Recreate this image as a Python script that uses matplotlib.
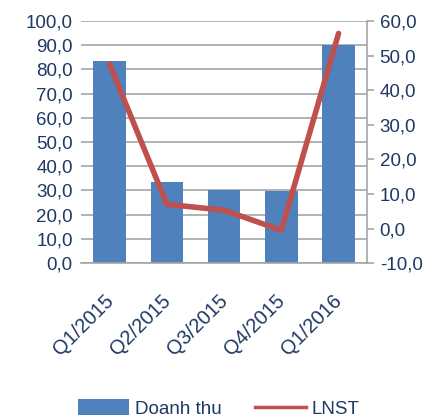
import matplotlib.pyplot as plt
from matplotlib.lines import Line2D
from matplotlib.transforms import ScaledTranslation
import numpy as np

quarters = ["Q1/2015", "Q2/2015", "Q3/2015", "Q4/2015", "Q1/2016"]
doanh_thu = [83.3, 33.3, 30.2, 29.8, 90.2]
lnst = [47.5, 7.0, 5.3, -0.5, 56.4]

navy = "#1F3864"
plt.rcParams['font.family'] = ['Liberation Sans', 'DejaVu Sans']

fig = plt.figure(figsize=(4.33, 4.19), dpi=100)
ax = fig.add_axes([0.187, 0.372, 0.661, 0.578])
x = np.arange(len(quarters))

bars = ax.bar(x, doanh_thu, width=0.57, color="#4F81BD", zorder=2, label="Doanh thu")
ax.set_ylim(0, 100)
ax.set_yticks(np.arange(0, 101, 10))
ax.set_yticklabels([f"{v:.1f}".replace(".", ",") for v in np.arange(0, 101, 10)])
ax.yaxis.grid(True, color="#A6A6A6", linewidth=1.2, zorder=0)
ax.set_axisbelow(True)
ax.set_xlim(-0.5, len(quarters) - 0.5)
ax.set_xticks(x)
ax.set_xticklabels(quarters, rotation=45, ha="right", rotation_mode="anchor")
for s in ["top", "left", "right"]:
    ax.spines[s].set_visible(False)
ax.spines["bottom"].set_color("#A6A6A6")
ax.spines["bottom"].set_linewidth(1.2)
ax.tick_params(axis="both", length=0, labelsize=13.5, colors=navy, pad=6)
ax.tick_params(axis="x", pad=20, labelsize=14.5)
# nudge the slanted labels a little to the left
shift = ScaledTranslation(-6 / 100, 0, fig.dpi_scale_trans)
for lab in ax.get_xticklabels():
    lab.set_transform(lab.get_transform() + shift)

ax2 = ax.twinx()
ax2.plot(x, lnst, color="#C0504D", linewidth=4, solid_capstyle="round", zorder=3)
ax2.set_ylim(-10, 60)
ax2.set_yticks(np.arange(-10, 61, 10))
ax2.set_yticklabels([f"{v:.1f}".replace(".", ",") for v in np.arange(-10, 61, 10)])
for s in ["top", "left", "bottom"]:
    ax2.spines[s].set_visible(False)
ax2.spines["right"].set_color("#A6A6A6")
ax2.spines["right"].set_linewidth(1.2)
ax2.tick_params(axis="y", length=5, color="#A6A6A6", width=1.2, labelsize=13.5, labelcolor=navy, pad=4)

line_handle = Line2D([], [], color="#C0504D", linewidth=2.5)
fig.legend([bars, line_handle], ["Doanh thu", "LNST"], loc="center", bbox_to_anchor=(0.505, 0.025),
           ncol=2, frameon=False, fontsize=13.5, handlelength=2.75, handleheight=0.95,
           columnspacing=1.78, handletextpad=0.3, labelcolor=navy)

fig.savefig("out.png", dpi=100)
